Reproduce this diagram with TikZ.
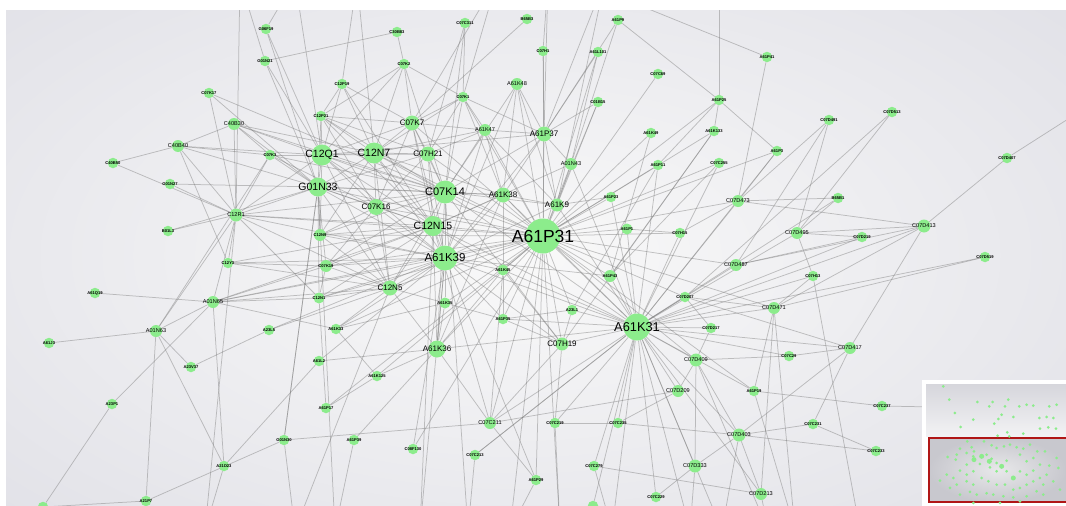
\documentclass[tikz,border=0pt]{standalone}
\usepackage{fontspec}
\setmainfont{Liberation Sans}
\pgfdeclarelayer{bg}
\pgfsetlayers{bg,main}
\definecolor{ngreen}{RGB}{140,236,140}
\definecolor{bgout}{RGB}{218,218,226}
\definecolor{bgin}{RGB}{249,249,249}
\definecolor{lnkc}{RGB}{125,125,125}
\definecolor{redbox}{RGB}{176,22,22}
\tikzset{
  nd/.style={circle, fill=ngreen, inner sep=0pt, draw=none},
  l0/.style={font=\fontsize{4.1}{4.5}\selectfont\bfseries, inner sep=0pt},
  l1/.style={font=\fontsize{5.6}{6}\selectfont, inner sep=0pt},
  l2/.style={font=\fontsize{8}{9}\selectfont, inner sep=0pt},
  l3/.style={font=\fontsize{10.5}{11}\selectfont, inner sep=0pt},
  s0/.style={nd, minimum size=10.5pt, label={[l0]center:#1}},
  s1/.style={nd, minimum size=12pt, label={[l1]center:#1}},
  s2/.style={nd, minimum size=15pt, label={[l2]center:#1}},
  s3/.style={nd, minimum size=21pt, label={[l3]center:#1}},
  lnk/.style={draw=lnkc, line width=0.75pt, opacity=0.45},
}
\begin{document}
\begin{tikzpicture}[x=1pt,y=-1pt]
\useasboundingbox (0,0) rectangle (1066,506);
% ---------- nodes ----------
\node[nd, minimum size=35pt, label={[font=\fontsize{17.5}{18}\selectfont, inner sep=0pt]center:A61P31}] (P31) at (543,236) {};
\node[nd, minimum size=27pt, label={[font=\fontsize{12.8}{13}\selectfont, inner sep=0pt]center:A61K31}] (K31) at (637,327) {};
\node[nd, minimum size=25pt, label={[font=\fontsize{11.5}{12}\selectfont, inner sep=0pt]center:A61K39}] (K39) at (445,258) {};
\node[nd, minimum size=23pt, label={[font=\fontsize{11}{12}\selectfont, inner sep=0pt]center:C07K14}] (K14) at (445,192) {};
\node[s3=C12N15, minimum size=20pt] (N15) at (433,226) {};
\node[s3=G01N33, minimum size=19pt] (G33) at (318,187) {};
\node[s3=C12Q1] (Q1) at (322,155) {};
\node[s3=C12N7] (N7) at (374,153) {};
\node[s2=A61K38] (K38) at (503,195) {};
\node[s2=C07K16, minimum size=16pt] (K16) at (376,207) {};
\node[s2=C12N5] (N5) at (390,288) {};
\node[s2=C07K7] (K7) at (412,123) {};
\node[s2=C07H21] (H21) at (428,154) {};
\node[s2=A61P37] (P37) at (544,134) {};
\node[s2=A61K9, minimum size=13pt] (K9) at (557,205) {};
\node[s2=A61K36, minimum size=17pt] (K36) at (437,349) {};
\node[s2=C07H19, minimum size=13pt] (H19) at (562,344) {};
\node[s1=C40B30] (B30) at (234,124) {};
\node[s1=C40B40] (B40) at (178,146) {};
\node[s1=A61K47] (K47) at (485,130) {};
\node[s1=A61K48] (K48) at (517,84) {};
\node[s1=A01N43] (A43) at (571,164) {};
\node[s1=C12R1, minimum size=13pt] (R1) at (236,215) {};
\node[s1=A01N65] (A65) at (213,302) {};
\node[s1=A01N63] (A63) at (156,331) {};
\node[s1=C07D473] (D473) at (738,201) {};
\node[s1=C07D495] (D495) at (797,233) {};
\node[s1=C07D487] (D487) at (736,265) {};
\node[s1=C07D471] (D471) at (774,308) {};
\node[s1=C07D413, minimum size=13pt] (D413) at (924,226) {};
\node[s1=C07C211] (C211) at (490,423) {};
\node[s1=C07D409, minimum size=13pt] (D409) at (696,360) {};
\node[s1=C07D209] (D209) at (678,391) {};
\node[s1=C07D403, minimum size=13pt] (D403) at (739,435) {};
\node[s1=C07D333, minimum size=13pt] (D333) at (695,466) {};
\node[s1=C07D213] (D213) at (761,494) {};
\node[s1=C07D417] (D417) at (850,348) {};
\node[s0=G06F19] (F19) at (266,29) {};
\node[s0=G01N21] (N21) at (265,61) {};
\node[s0=C07K17] (K17) at (209,93) {};
\node[s0=C40B50] (B50) at (113,163) {};
\node[s0=C07K3] (K3) at (270,155) {};
\node[s0=C30B83] (B83) at (397,32) {};
\node[s0=C07C311] (C311) at (465,23) {};
\node[s0=B65B3] (B3) at (527,19) {};
\node[s0=C07K2] (K2) at (404,64) {};
\node[s0=C12P19] (CP19) at (342,84) {};
\node[s0=C07K1] (K1) at (463,97) {};
\node[s0=C12P21] (P21) at (321,116) {};
\node[s0=A61P9] (P9) at (618,20) {};
\node[s0=C07H1] (H1) at (543,51) {};
\node[s0=A61L101] (L101) at (598,52) {};
\node[s0=C07C69] (C69) at (658,74) {};
\node[s0=A61P41] (P41) at (767,57) {};
\node[s0=C01B15] (B15) at (598,102) {};
\node[s0=A61P25] (P25) at (719,100) {};
\node[s0=A61K49] (K49) at (651,133) {};
\node[s0=A61K133] (K133) at (714,131) {};
\node[s0=A61P3] (P3) at (777,151) {};
\node[s0=A61P11] (P11) at (658,165) {};
\node[s0=C07C255] (C255) at (719,163) {};
\node[s0=C07D491] (D491) at (829,120) {};
\node[s0=C07D513] (D513) at (892,112) {};
\node[s0=C07D407] (D407) at (1007,158) {};
\node[s0=G01N27] (N27) at (170,184) {};
\node[s0=B01L3] (L3) at (168,231) {};
\node[s0=C12Y3] (Y3) at (228,263) {};
\node[s0=A61Q19] (Q19) at (95,293) {};
\node[s0=A23L5] (L5) at (269,330) {};
\node[s0=C12N9, minimum size=12pt] (N9) at (320,235) {};
\node[s0=C07K19, minimum size=12pt] (K19) at (326,266) {};
\node[s0=C12N1, minimum size=11pt] (N1) at (319,298) {};
\node[s0=A61K33] (K33) at (336,329) {};
\node[s0=A61K35, minimum size=11pt] (K35) at (445,303) {};
\node[s0=A61K45, minimum size=11pt] (K45) at (503,270) {};
\node[s0=A61P35] (P35) at (503,319) {};
\node[s0=A61P23] (P23) at (611,197) {};
\node[s0=A61P1, minimum size=11pt] (P1) at (627,229) {};
\node[s0=C07H15] (H15) at (680,233) {};
\node[s0=A61P43, minimum size=12pt] (P43) at (610,276) {};
\node[s0=C07D207] (D207) at (685,297) {};
\node[s0=A23L1] (L1) at (572,310) {};
\node[s0=C07D217] (D217) at (711,328) {};
\node[s0=B65B1] (B1) at (838,198) {};
\node[s0=C07D219] (D219) at (862,237) {};
\node[s0=C07D519] (D519) at (985,257) {};
\node[s0=C07H13] (H13) at (813,276) {};
\node[s0=A61J3] (J3) at (49,343) {};
\node[s0=A23V37] (V37) at (191,367) {};
\node[s0=A23P1] (AP1) at (112,404) {};
\node[s0=A21D23] (D23) at (224,466) {};
\node[s0=A21P7] (P7) at (146,501) {};
\node[nd, minimum size=10.5pt] (X1) at (43,507) {};
\node[s0=A61L2] (L2) at (319,361) {};
\node[s0=A61K125] (K125) at (377,376) {};
\node[s0=A61P17] (P17) at (326,408) {};
\node[s0=G01N30] (N30) at (284,440) {};
\node[s0=A61P39] (P39) at (354,440) {};
\node[s0=C08F130] (F130) at (413,449) {};
\node[s0=C07C213] (C213) at (475,455) {};
\node[s0=A61P29] (P29) at (536,480) {};
\node[s0=C07C29] (C29) at (789,356) {};
\node[s0=A61P19] (P19) at (754,391) {};
\node[s0=C07C219] (C219) at (555,423) {};
\node[s0=C07C235] (C235) at (618,423) {};
\node[s0=C07C279] (C279) at (594,466) {};
\node[s0=C07C229] (C229) at (656,497) {};
\node[nd, minimum size=10.5pt] (X2) at (593,506) {};
\node[s0=C07C237] (C237) at (882,406) {};
\node[s0=C07C231] (C231) at (813,424) {};
\node[s0=C07C233] (C233) at (876,451) {};
% off-frame ends
\coordinate (t1) at (240,-20);  \coordinate (t2) at (295,-20);
\coordinate (t3) at (357,-20);  \coordinate (t4) at (497,-20);
\coordinate (t5) at (577,-20);  \coordinate (t6) at (719,-20);
\coordinate (t7) at (548,-20);  \coordinate (t8) at (605,-20);
\coordinate (r1) at (1090,105); \coordinate (r2) at (1090,410);
\coordinate (b1) at (205,530);  \coordinate (b2) at (295,530);
\coordinate (b3) at (335,530);  \coordinate (b4) at (420,530);
\coordinate (b5) at (468,530);  \coordinate (b6) at (510,530);
\coordinate (b7) at (560,530);  \coordinate (b8) at (612,530);
\coordinate (b9) at (690,530);  \coordinate (b10) at (722,530);
\coordinate (b11) at (768,530); \coordinate (b12) at (795,530);
\coordinate (b13) at (860,530);
% ---------- background and links ----------
\begin{pgfonlayer}{bg}
\fill[white] (0,0) rectangle (1066,506);
\begin{scope}
\clip (6,10) rectangle (1066,506);
\fill[bgout] (6,10) rectangle (1066,506);
\shade[inner color=bgin, outer color=bgout] (520,255) ellipse (960 and 500);
\foreach \a/\b in {P31/K39,P31/K14,P31/N15,P31/K38,P31/K9,P31/P37,P31/K47,P31/K48,P31/A43,P31/P23,P31/P1,P31/P43,P31/K31,P31/K45,P31/P35,P31/K35,P31/N5,P31/K36,P31/H19,P31/L1,P31/C69,P31/K49,P31/B15,P31/L101,P31/P25,P31/P11,P31/P3,P31/H15,P31/D473,P31/D487,P31/Q1,P31/G33,P31/K16,P31/N7,P31/H21,P31/K7,P31/P19,P31/P29,P31/C211,P31/K33,P31/R1,P31/A65,P31/K133,P31/D471,P31/D409,P31/P17,P31/K125,P31/F130,P31/K1,P31/H1,P31/C255,P31/D207,P31/N9,P31/K19,P31/N1,
K31/K9,K31/P43,K31/P1,K31/D207,K31/D217,K31/D487,K31/D471,K31/D473,K31/D495,K31/D413,K31/D409,K31/D209,K31/D403,K31/D333,K31/D213,K31/D417,K31/H19,K31/L1,K31/K36,K31/K39,K31/K45,K31/P35,K31/C219,K31/C235,K31/C279,K31/C229,K31/P19,K31/C29,K31/H15,K31/D519,K31/H13,K31/B1,K31/D219,K31/P23,K31/K38,K31/C211,K31/X2,K31/C213,K31/P11,K31/K14,K31/N15,K31/A43,K31/P3,K31/C255,
K39/K14,K39/N15,K39/G33,K39/Q1,K39/N7,K39/K16,K39/N5,K39/K35,K39/K36,K39/K45,K39/K38,K39/K19,K39/N9,K39/N1,K39/P37,K39/H21,K39/K7,K39/P35,K39/K47,K39/K48,K39/L5,K39/A65,K39/Y3,K39/K33,K39/H19,K39/P29,K39/R1,K39/K9,K39/P43,K39/L2,
K14/N15,K14/G33,K14/Q1,K14/N7,K14/K16,K14/K7,K14/H21,K14/K38,K14/K47,K14/K1,K14/K2,K14/P21,K14/K19,K14/N9,K14/P37,K14/K9,K14/N5,K14/K3,K14/K17,K14/R1,K14/K48,K14/C311,K14/B30,
N15/G33,N15/Q1,N15/N7,N15/K16,N15/N5,N15/N9,N15/N1,N15/H21,N15/K7,N15/K38,N15/P21,N15/CP19,N15/R1,N15/Y3,N15/A65,N15/A43,N15/K19,N15/K45,
G33/Q1,G33/N7,G33/K16,G33/R1,G33/N27,G33/B30,G33/B40,G33/K3,G33/P21,G33/N9,G33/K19,G33/N1,G33/N21,G33/F19,G33/L3,G33/H21,G33/N5,G33/K38,G33/K17,G33/N30,
Q1/N7,Q1/H21,Q1/K7,Q1/P21,Q1/CP19,Q1/B30,Q1/B40,Q1/K3,Q1/N21,Q1/F19,Q1/R1,Q1/K16,Q1/N5,Q1/N9,Q1/K2,Q1/P37,
N7/H21,N7/K7,N7/K2,N7/CP19,N7/K16,N7/N5,N7/P21,N7/K1,N7/B30,N7/K38,N7/N9,N7/K47,
K7/K2,K7/CP19,K7/B3,K7/H21,K7/K47,K7/P21,K7/K16,K7/K1,
H21/K1,H21/K47,H21/P21,H21/K16,H21/C311,
P37/H1,P37/L101,P37/P9,P37/K48,P37/K47,P37/A43,P37/K9,P37/K38,P37/B15,P37/K1,
K38/K48,K38/K9,K38/K47,K38/K1,K38/K45,
K9/P23,K9/K47,K9/K48,K9/A43,
K16/N9,K16/K19,K16/N5,K16/K3,K16/P21,
N5/N1,N5/R1,N5/K19,N5/K35,N5/N9,N5/A65,N5/Y3,N5/L5,N5/K33,
R1/B30,R1/B40,R1/N27,R1/L3,R1/Y3,R1/A63,R1/A65,R1/K3,R1/N1,R1/K17,R1/t1,
B30/B40,B30/K3,B40/B50,B40/Y3,B40/K3,B50/R1,
A65/Q19,A65/A63,A65/D23,A65/K19,A65/N1,A65/K33,A65/AP1,Y3/K19,
A63/J3,A63/V37,A63/P7,A63/D23,A63/K3,V37/L5,AP1/X1,X1/P7,D23/L2,D23/b1,P7/N30,
K36/L2,K36/K125,K36/P39,K36/C211,K36/K45,K36/K35,K36/N5,K36/K38,K36/K14,K36/N15,
P17/K125,P17/N1,N30/C211,N30/G33,N30/b2,P39/b3,F130/K39,C213/K31,C213/b5,
C211/P29,C211/D209,C211/K45,C211/H19,C211/N15,P29/b6,
H19/C219,H19/K45,H19/P35,H19/K14,
D409/C29,D409/D209,D409/D333,D409/D403,D409/D217,P19/C237,P19/D471,
D209/C235,C219/C235,C219/b7,C235/D403,
D403/D333,D403/C233,D403/D213,D403/D417,D403/C231,C279/D213,C279/b8,D333/b9,D333/C229,D213/D471,D213/b11,
D417/C29,D417/C231,D417/D413,D417/D207,C237/r2,C231/C233,
D413/D407,D413/D473,D413/D487,D413/D471,D413/D495,D407/r1,
D519/D471,D219/D495,D219/D487,B1/D495,B1/D473,H13/D495,H13/D471,H13/b13,
D491/D473,D491/D495,D491/D487,D513/D495,D513/D207,D473/P3,
P3/P25,P25/P9,P25/P11,P25/K133,P25/t6,P41/t5,P41/D473,P9/A43,L101/A43,
B15/K9,K49/P43,K133/P43,K133/H19,C255/P43,P11/L1,H1/t7,
C311/K1,K1/K2,K1/K47,K1/t4,K2/B83,K2/P21,B83/N21,CP19/t3,CP19/P21,F19/t2,N21/t1,
H15/P1,H15/D473,D207/D471,D207/D217,L1/H19,L1/P35,K45/P35,K35/P35,K35/K33,N1/K19,K33/K125,
K39/b4,N15/b4,K14/b5,P31/b6,P31/b7,K31/b8,K31/b9,K31/b10,D403/b10,D409/b11,D471/b12,P19/b12,N5/b2,G33/b3,R1/b1,
Q1/t2,N7/t3,K7/t4,P37/t7,P37/t8,K9/t8} \draw[lnk] (\a) -- (\b);
\end{scope}
\end{pgfonlayer}
% ---------- overview inset ----------
\fill[white] (922,380) rectangle (1066,506);
\shade[top color={rgb,255:red,214;green,214;blue,220}, bottom color={rgb,255:red,242;green,242;blue,244}] (926,384) rectangle (1066,436);
\shade[inner color={rgb,255:red,232;green,232;blue,234}, outer color={rgb,255:red,200;green,200;blue,206}] (929,438) rectangle (1066,502);
\draw[draw=redbox, line width=2pt] (929,438) rectangle (1068,502);
\begin{scope}[shift={(800,338)}, x=0.3333pt, y=-0.3333pt]
\foreach \x/\y in {430/145,448/185,465/225,482/267,532/192,520/245,578/192,568/205,625/185,615/205,605/230,595/243,583/257,640/237,658/205,680/200,700/203,748/205,770/200,718/240,740/237,760/240,720/272,745/268,768/272,622/283,593/293,628/295,670/287,
443/357,470/350,467/365,480/332,502/310,515/328,500/345,522/340,552/310,575/322,590/330,612/325,630/320,650/328,670/332,690/320,712/340,735/340,500/380,520/355,560/350,575/362,590/375,620/368,660/350,680/370,700/360,720/380,748/383,770/360,440/410,460/420,480/398,500/410,520/400,540/378,570/388,590/400,620/400,660/400,680/410,700/398,720/420,740/410,775/390,420/428,450/450,470/440,500/430,520/440,545/420,565/430,590/440,615/440,640/455,660/450,680/440,700/430,730/440,760/430,480/470,510/462,530/470,560/466,580/470,610/475,640/478,680/475,710/460,730/470,780/455,520/495,600/495,660/490}
  \fill[ngreen] (\x,\y) circle (4.5);
\foreach \x/\y in {568/370,605/385,640/420,545/355,522/365}
  \fill[ngreen] (\x,\y) circle (7.5);
\end{scope}
\end{tikzpicture}
\end{document}
